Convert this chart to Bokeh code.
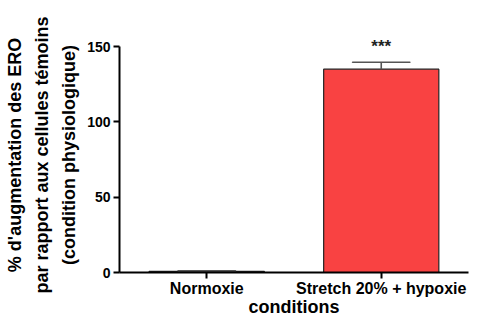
from bokeh.plotting import figure
from bokeh.models import FactorRange, Range1d, ColumnDataSource
from bokeh.embed import file_html
from bokeh.resources import INLINE
from bokeh.core.properties import value

categories = ["Normoxie", "Stretch 20% + hypoxie"]
means = [0.8, 135.0]
errors = [0.3, 4.6]
fills = ["#ffffff", "#f94242"]
significance = ["", "***"]
y_ticks = [0, 50, 100, 150]
x_title = "conditions"
y_title = "% d'augmentation des ERO\npar rapport aux cellules témoins\n(condition physiologique)"

FONT = "Liberation Sans"

src = ColumnDataSource(data=dict(
    cat=categories,
    mean=means,
    top=[m + e for m, e in zip(means, errors)],
    fill=fills,
    star=significance,
    star_y=[150.0 for _ in categories],
))

p = figure(
    width=470, height=319,
    x_range=FactorRange(*categories, range_padding=0),
    y_range=Range1d(0, 156),
    output_backend="svg", toolbar_location=None,
    min_border_left=119, min_border_right=2,
    min_border_top=37, min_border_bottom=42,
)
p.outline_line_color = None
p.grid.grid_line_color = None
p.background_fill_color = "white"
p.border_fill_color = "white"

p.vbar(x="cat", top="mean", bottom=0, width=0.66, source=src,
       fill_color="fill", line_color="#222222", line_width=1.2)
p.segment(x0="cat", y0="mean", x1="cat", y1="top", source=src,
          line_color="#555555", line_width=1.6)
p.rect(x="cat", y="top", width=0.33, height=0.0001, source=src,
       line_color="#555555", line_width=1.6, fill_color=None)
p.text(x="cat", y="star_y", text="star", source=src,
       text_align="center", text_baseline="middle",
       text_font=value(FONT), text_font_style="bold",
       text_font_size="17px", text_color="#222222")

for ax in (p.xaxis[0], p.yaxis[0]):
    ax.axis_line_width = 2
    ax.axis_line_color = "black"
    ax.major_tick_line_width = 2
    ax.major_tick_line_color = "black"
    ax.major_tick_out = 6
    ax.major_tick_in = 0
    ax.minor_tick_line_color = None
    ax.major_label_text_font = FONT
    ax.major_label_text_font_style = "bold"
    ax.major_label_text_color = "black"
    ax.axis_label_text_font = FONT
    ax.axis_label_text_font_style = "bold"
    ax.axis_label_text_color = "black"

p.yaxis.ticker = y_ticks
p.yaxis.bounds = (0, 150)
p.yaxis.major_label_text_font_size = "14px"
p.yaxis.major_label_standoff = 3
p.yaxis.axis_label = y_title
p.yaxis.axis_label_text_font_size = "18px"
p.yaxis.axis_label_text_line_height = 1.35
p.yaxis.axis_label_standoff = 5

p.xaxis.major_label_text_font_size = "16px"
p.xaxis.major_label_standoff = 1
p.xaxis.axis_label = x_title
p.xaxis.axis_label_text_font_size = "18px"
p.xaxis.axis_label_standoff = -3

open("out.html", "w").write(file_html(p, INLINE))
